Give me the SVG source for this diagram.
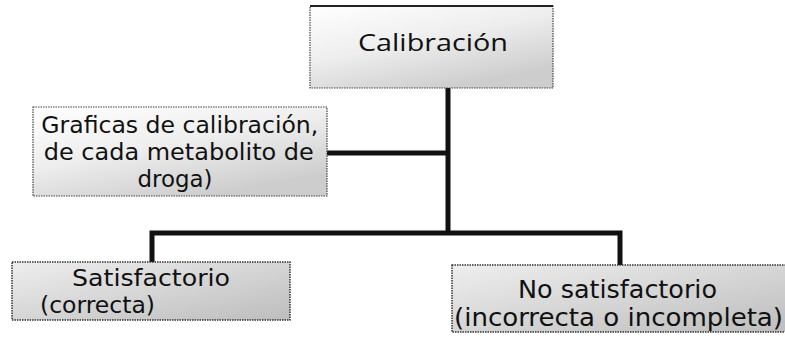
<svg xmlns="http://www.w3.org/2000/svg" width="785" height="348" viewBox="0 0 785 348">
<defs>
<linearGradient id="g1" x1="0" y1="0" x2="0.6" y2="1">
<stop offset="0" stop-color="#ffffff"/>
<stop offset="0.5" stop-color="#eeeeee"/>
<stop offset="1" stop-color="#cdcdcd"/>
</linearGradient>
<linearGradient id="g2" x1="0" y1="0" x2="1" y2="1">
<stop offset="0" stop-color="#eeeeee"/>
<stop offset="1" stop-color="#bdbdbd"/>
</linearGradient>
</defs>
<style>
.box{fill:url(#g1);stroke:#444;stroke-width:1.2;stroke-dasharray:1.5 1}
.box2{fill:url(#g2);stroke:#333;stroke-width:1.5;stroke-dasharray:1.5 1}
.t{font-family:"DejaVu Sans Condensed","DejaVu Sans","Liberation Sans",sans-serif;fill:#111}
.h{font-family:"Open Sans","Noto Sans","Liberation Sans",sans-serif;fill:#111}
.c{fill:none;stroke:#111;stroke-width:5;stroke-linejoin:miter}
</style>
<g id="connectors">
<path class="c" d="M448 88 V233"/>
<path class="c" d="M327 153 H448"/>
<path class="c" d="M152 262 V233 H620 V265"/>
</g>
<g id="calibracion">
<rect class="box" x="310" y="6" width="243" height="82"/>
<line x1="310" y1="6" x2="553" y2="6" stroke="#222" stroke-width="2"/>
<text class="h" x="433" y="51" font-size="23" text-anchor="middle" textLength="150" lengthAdjust="spacingAndGlyphs">Calibración</text>
</g>
<g id="graficas">
<rect class="box" x="33" y="107" width="294" height="89"/>
<text class="t" font-size="22.5" text-anchor="middle">
<tspan x="183" y="133" textLength="277" lengthAdjust="spacingAndGlyphs">Graficas de calibración,</tspan>
<tspan x="182" y="160" textLength="270" lengthAdjust="spacingAndGlyphs">de cada metabolito de</tspan>
<tspan x="175" y="187" textLength="75" lengthAdjust="spacingAndGlyphs">droga)</tspan>
</text>
</g>
<g id="satisfactorio">
<rect class="box2" x="12" y="262" width="278" height="58"/>
<text class="t" font-size="23">
<tspan x="72" y="286" textLength="158" lengthAdjust="spacingAndGlyphs">Satisfactorio</tspan>
<tspan x="40" y="313" textLength="115" lengthAdjust="spacingAndGlyphs">(correcta)</tspan>
</text>
</g>
<g id="no-satisfactorio">
<rect class="box2" x="452" y="265" width="340" height="67"/>
<text class="t" font-size="24">
<tspan x="518" y="298" textLength="199" lengthAdjust="spacingAndGlyphs">No satisfactorio</tspan>
<tspan x="454" y="326" textLength="329" lengthAdjust="spacingAndGlyphs">(incorrecta o incompleta)</tspan>
</text>
</g>
</svg>
